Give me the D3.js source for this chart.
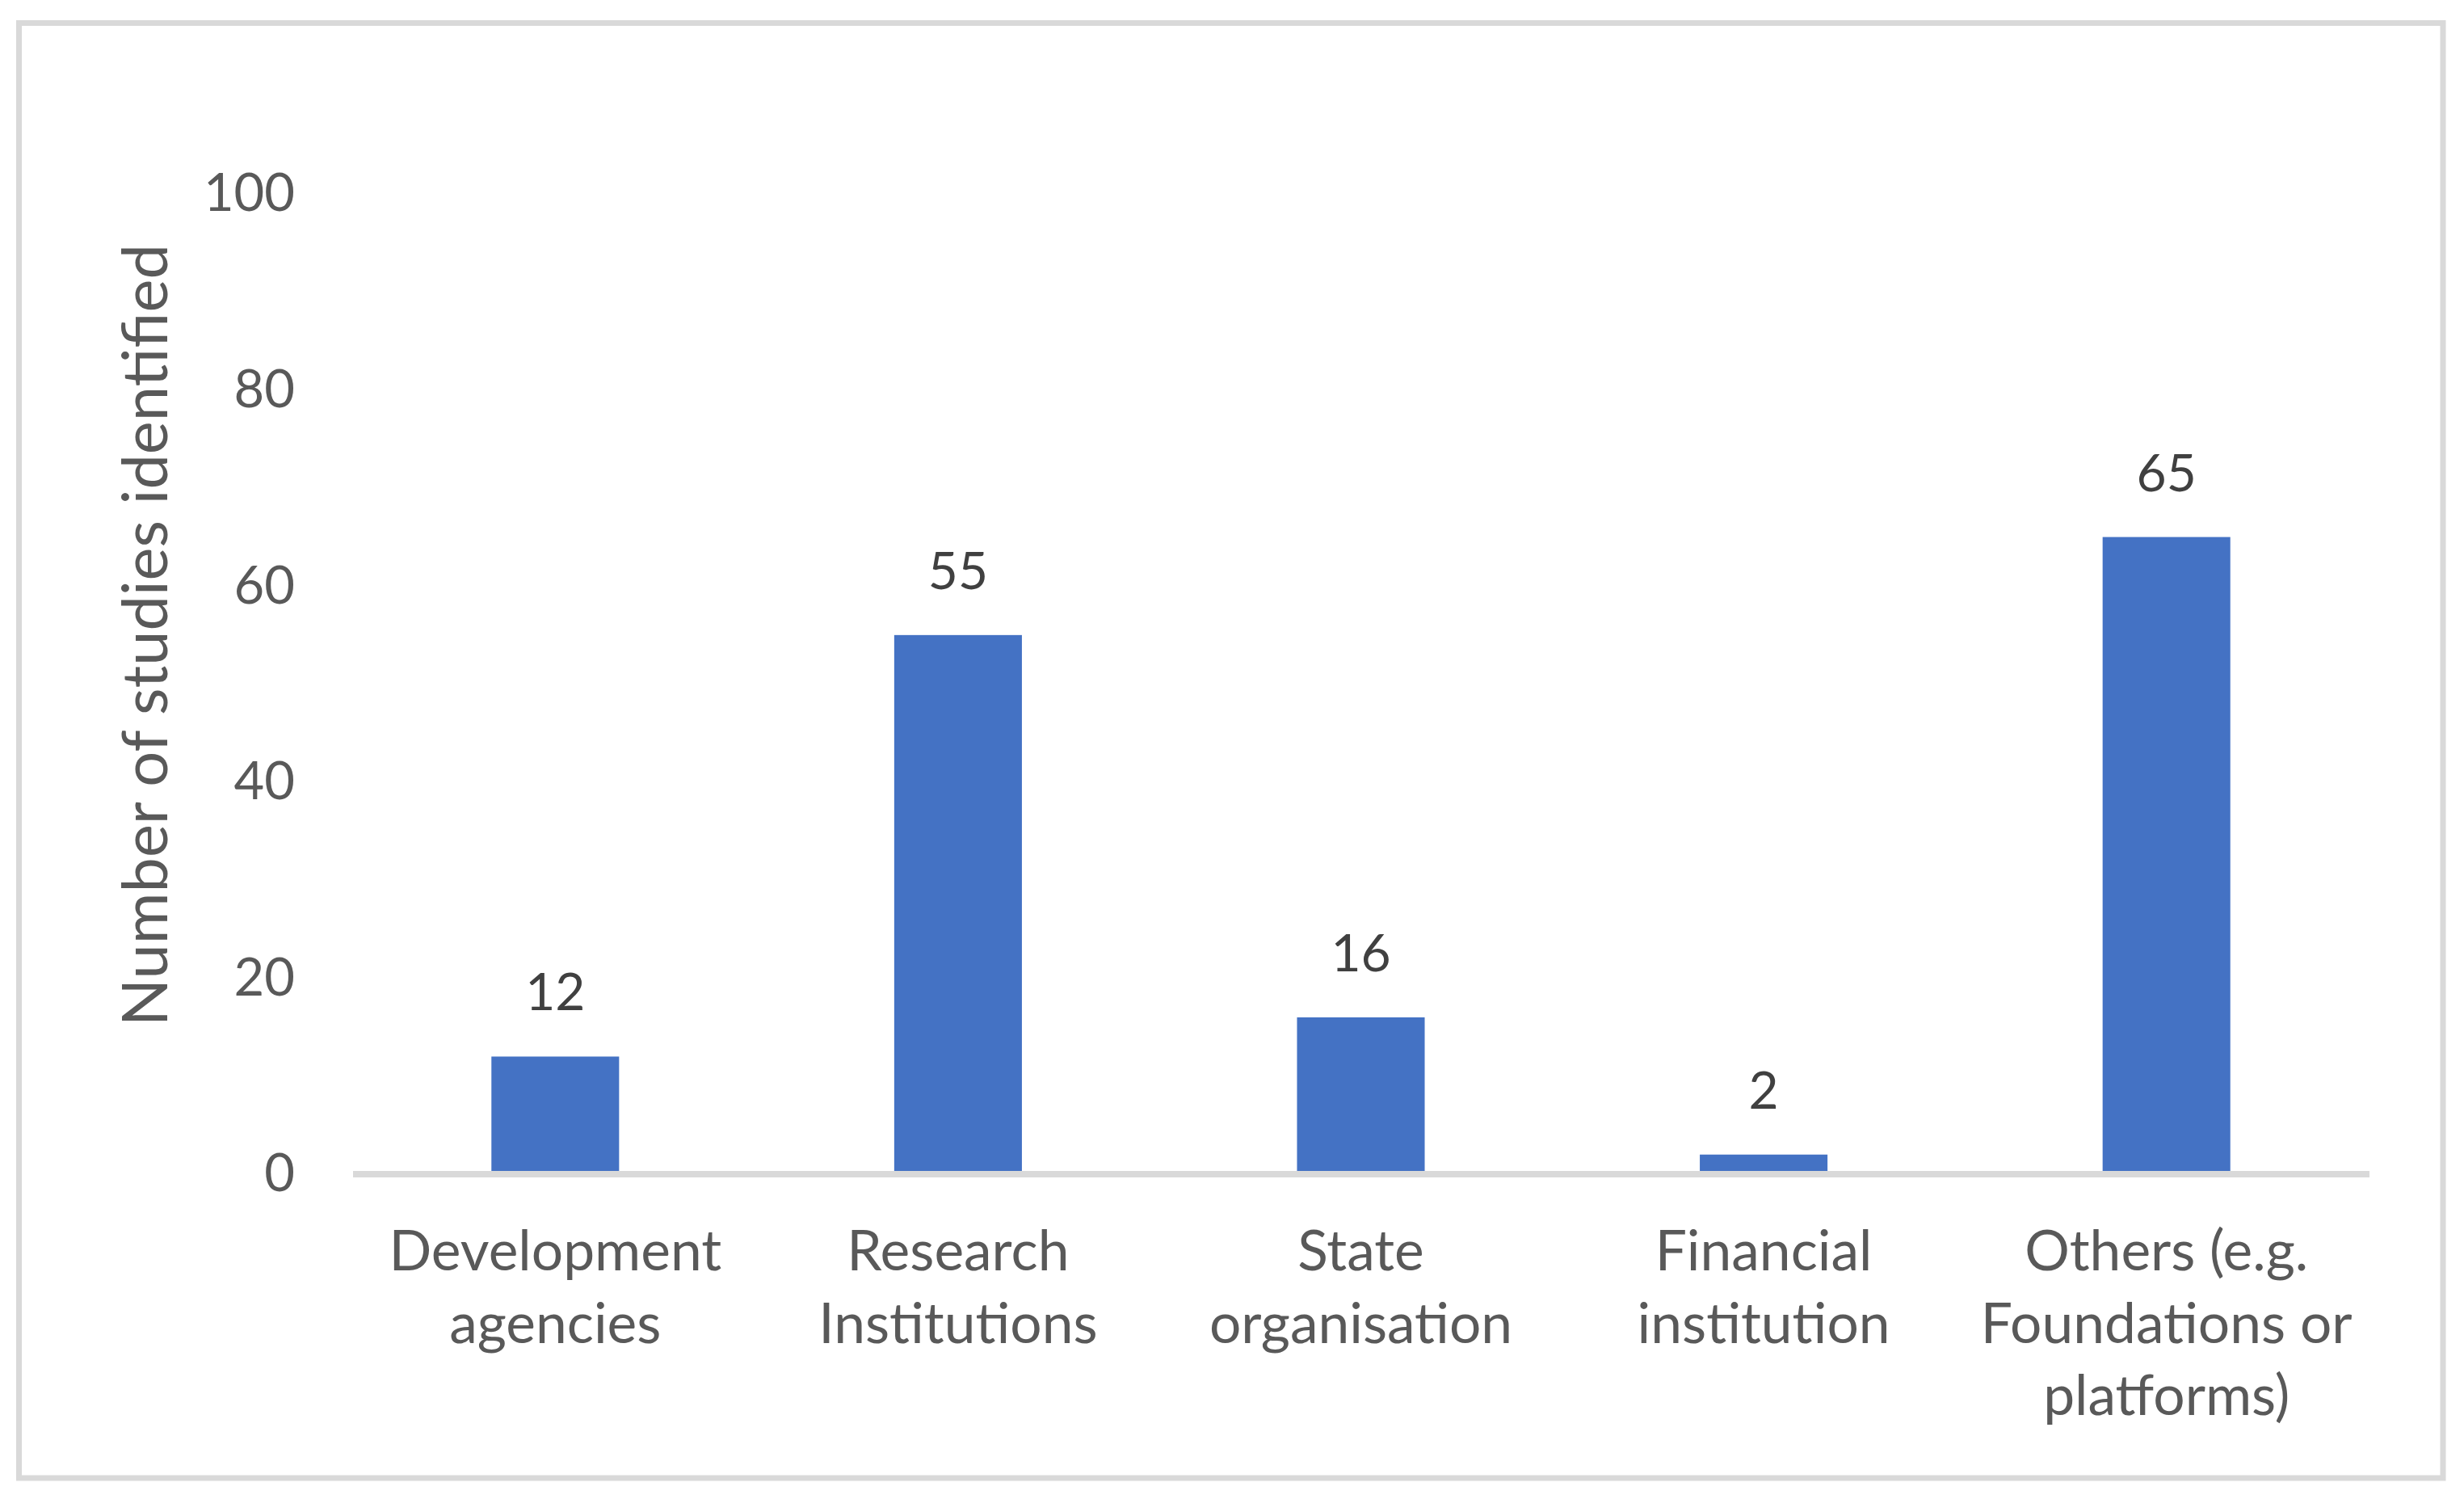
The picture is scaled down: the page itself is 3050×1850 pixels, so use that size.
<!DOCTYPE html>
<html>
<head>
<meta charset="utf-8">
<script src="https://cdn.jsdelivr.net/npm/d3@7"></script>
<style>
  html, body { margin: 0; padding: 0; background: #ffffff; }
  svg { display: block; }
  text { font-family: Lato, "Open Sans", sans-serif; }
</style>
</head>
<body>
<svg id="chart" width="3050" height="1850"></svg>
<script>
const categories = [
  ["Development", "agencies"],
  ["Research", "Institutions"],
  ["State", "organisation"],
  ["Financial", "institution"],
  ["Others (e.g.", "Foundations or", "platforms)"]
];
const values = [12, 55, 16, 2, 65];
const yTicks = [0, 20, 40, 60, 80, 100];
const yTitle = "Number of studies identified";

const svg = d3.select("#chart");
const W = 3050, H = 1850;

svg.append("rect").attr("width", W).attr("height", H).attr("fill", "#ffffff");
// outer chart border
svg.append("rect")
  .attr("x", 23.5).attr("y", 28.5)
  .attr("width", 3000.5).attr("height", 1800.5)
  .attr("fill", "none").attr("stroke", "#d9d9d9").attr("stroke-width", 7);

const plotLeft = 438, plotRight = 2931, yZero = 1453, yTop = 240;
const keys = categories.map((c, i) => i);

const x = d3.scaleBand().domain(keys).range([plotLeft, plotRight])
  .paddingInner(0.683).paddingOuter(0.3415);
const y = d3.scaleLinear().domain([0, 100]).range([yZero, yTop]);

// y axis labels
const yAxis = d3.axisLeft(y).tickValues(yTicks).tickSize(0).tickPadding(73).tickFormat(d3.format("d"));
const yg = svg.append("g").attr("transform", `translate(${plotLeft},0)`).call(yAxis);
yg.select(".domain").remove();
yg.selectAll("text")
  .attr("fill", "#595959")
  .style("font-size", "65px")
  .style("font-family", "Lato, 'Open Sans', sans-serif");

// bars
svg.append("g").selectAll("rect").data(values).join("rect")
  .attr("x", (d, i) => x(i))
  .attr("width", x.bandwidth())
  .attr("y", d => y(d))
  .attr("height", d => y(0) - y(d))
  .attr("fill", "#4472c4");

// baseline
svg.append("line")
  .attr("x1", plotLeft - 1).attr("x2", plotRight + 2)
  .attr("y1", y(0)).attr("y2", y(0))
  .attr("stroke", "#d9d9d9").attr("stroke-width", 8);

// data labels
svg.append("g").selectAll("text").data(values).join("text")
  .attr("x", (d, i) => x(i) + x.bandwidth() / 2)
  .attr("y", d => y(d) - 57)
  .attr("text-anchor", "middle")
  .attr("fill", "#404040")
  .style("font-size", "64px")
  .text(d => d);

// category labels
const cg = svg.append("g").selectAll("text").data(categories).join("text")
  .attr("text-anchor", "middle")
  .attr("fill", "#595959")
  .style("font-size", "69.5px");
cg.each(function(lines, i) {
  const t = d3.select(this);
  lines.forEach((ln, j) => {
    t.append("tspan")
      .attr("x", x(i) + x.bandwidth() / 2)
      .attr("y", 1572 + j * 89.5)
      .text(ln);
  });
});

// y axis title
svg.append("text")
  .attr("transform", "translate(207,786) rotate(-90)")
  .attr("text-anchor", "middle")
  .attr("fill", "#595959")
  .style("font-size", "77.5px")
  .text(yTitle);
</script>
</body>
</html>
